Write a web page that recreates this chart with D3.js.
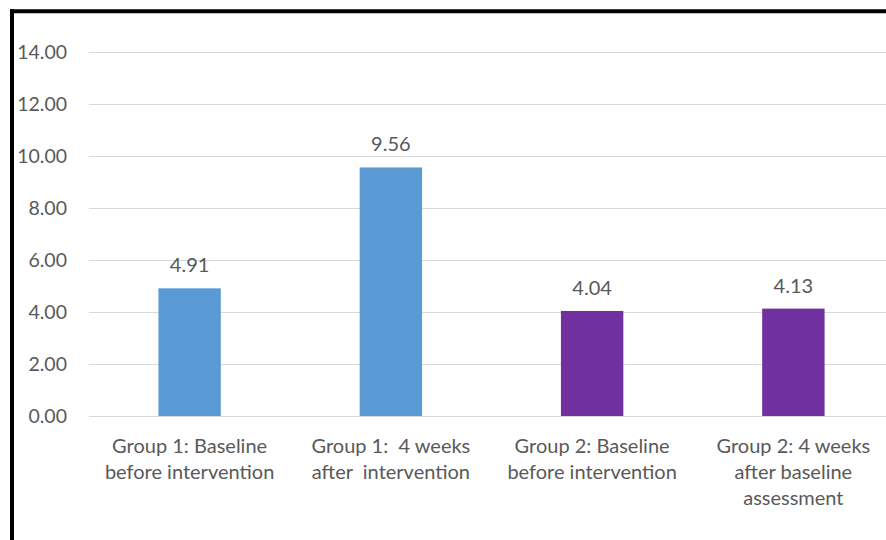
<!DOCTYPE html>
<html>
<head>
<meta charset="utf-8">
<script src="https://cdn.jsdelivr.net/npm/d3@7"></script>
<style>
  html, body { margin: 0; padding: 0; background: #fff; }
  svg { display: block; }
  text { font-family: Lato, "Open Sans", sans-serif; fill: #595959; white-space: pre; }
</style>
</head>
<body>
<svg id="chart" width="886" height="540"></svg>
<script>
const categories = [
  ["Group 1: Baseline", "before intervention"],
  ["Group 1:  4 weeks", "after  intervention"],
  ["Group 2: Baseline", "before intervention"],
  ["Group 2: 4 weeks", "after baseline", "assessment"]
];
const values = [4.91, 9.56, 4.04, 4.13];
const barColors = ["#5B9BD5", "#5B9BD5", "#7030A0", "#7030A0"];
const yTicks = [0, 2, 4, 6, 8, 10, 12, 14];

const W = 886, H = 540;
const svg = d3.select("#chart");

const plotLeft = 89, plotRight = 894, plotTop = 52, plotBottom = 416;

const x = d3.scaleBand()
  .domain(d3.range(categories.length))
  .range([plotLeft, plotRight])
  .paddingInner(0.69)
  .paddingOuter(0.345);

const y = d3.scaleLinear().domain([0, 14]).range([plotBottom, plotTop]);

// gridlines
svg.append("g")
  .selectAll("line")
  .data(yTicks)
  .join("line")
  .attr("x1", plotLeft)
  .attr("x2", W)
  .attr("y1", d => Math.round(y(d)) + 0.5)
  .attr("y2", d => Math.round(y(d)) + 0.5)
  .attr("stroke", "#d9d9d9")
  .attr("stroke-width", 1);

// y tick labels
svg.append("g")
  .selectAll("text")
  .data(yTicks)
  .join("text")
  .attr("x", 67)
  .attr("y", d => y(d))
  .attr("dy", "0.35em")
  .attr("text-anchor", "end")
  .attr("font-size", 19.5)
  .text(d => d3.format(".2f")(d));

// bars
svg.append("g")
  .selectAll("rect")
  .data(values)
  .join("rect")
  .attr("x", (d, i) => x(i))
  .attr("width", x.bandwidth())
  .attr("y", d => y(d))
  .attr("height", d => y(0) - y(d))
  .attr("fill", (d, i) => barColors[i]);

// baseline
svg.append("line")
  .attr("x1", plotLeft).attr("x2", W)
  .attr("y1", Math.round(y(0)) + 0.5).attr("y2", Math.round(y(0)) + 0.5)
  .attr("stroke", "#d9d9d9");

// value labels
svg.append("g")
  .selectAll("text")
  .data(values)
  .join("text")
  .attr("x", (d, i) => x(i) + x.bandwidth() / 2)
  .attr("y", d => y(d) - 16)
  .attr("text-anchor", "middle")
  .attr("font-size", 20)
  .text(d => d3.format(".2f")(d));

// category labels
const catG = svg.append("g");
categories.forEach((lines, i) => {
  const t = catG.append("text")
    .attr("x", x(i) + x.bandwidth() / 2)
    .attr("y", 452.5)
    .attr("text-anchor", "middle")
    .attr("font-size", 20);
  lines.forEach((ln, j) => {
    t.append("tspan")
      .attr("x", x(i) + x.bandwidth() / 2)
      .attr("y", 452.5 + j * 26)
      .text(ln);
  });
});

// frame (top and left black border)
svg.append("line")
  .attr("x1", 10).attr("x2", W)
  .attr("y1", 11.3).attr("y2", 11.3)
  .attr("stroke", "#000").attr("stroke-width", 4);
svg.append("line")
  .attr("x1", 12).attr("x2", 12)
  .attr("y1", 9.3).attr("y2", H)
  .attr("stroke", "#000").attr("stroke-width", 4);
</script>
</body>
</html>
